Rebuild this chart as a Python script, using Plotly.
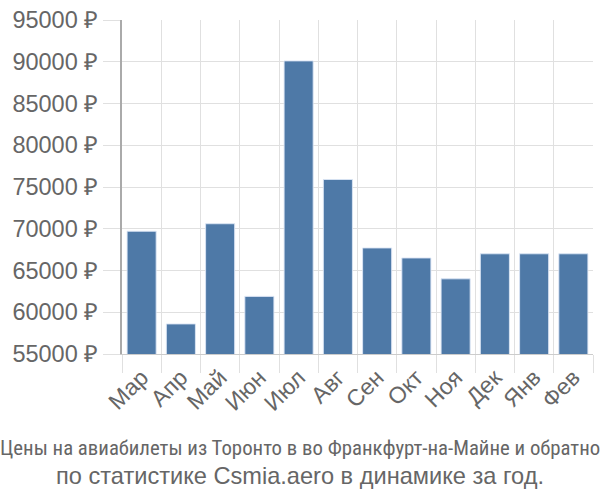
import plotly.graph_objects as go

months = ["Мар", "Апр", "Май", "Июн", "Июл", "Авг", "Сен", "Окт", "Ноя", "Дек", "Янв", "Фев"]
prices = [69700, 58600, 70600, 61900, 90100, 75900, 67700, 66500, 64000, 67000, 67000, 67000]

title_line1 = "Цены на авиабилеты из Торонто в во Франкфурт-на-Майне и обратно"
title_line2 = "по статистике Csmia.aero в динамике за год."

FONT = "Liberation Sans, Arial, sans-serif"

fig = go.Figure(go.Bar(
    x=months, y=prices,
    marker=dict(color="#4e79a7", line=dict(color="rgba(220,230,245,0.9)", width=1)),
))

fig.update_layout(
    width=600, height=500,
    margin=dict(l=122, r=7, t=14, b=146),
    paper_bgcolor="white", plot_bgcolor="white",
    bargap=0.26,
    showlegend=False,
    font=dict(family=FONT, color="#666666"),
    xaxis=dict(
        type="category", tickson="boundaries",
        showgrid=True, gridcolor="#e0e0e0", gridwidth=1,
        ticks="outside", ticklen=18, tickcolor="#e0e0e0",
        showline=True, linecolor="#cccccc", linewidth=1,
        tickangle=-45, tickfont=dict(family=FONT, size=23, color="#666666"),
    ),
    yaxis=dict(
        range=[55000, 95000], dtick=5000, tick0=55000,
        ticksuffix=" ₽", tickformat="d",
        showgrid=True, gridcolor="#e0e0e0", gridwidth=1,
        ticks="outside", ticklen=17, tickcolor="#e0e0e0",
        showline=True, linecolor="#aaaaaa", linewidth=2,
        zeroline=False,
        tickfont=dict(family=FONT, size=23.5, color="#666666"),
    ),
    annotations=[
        dict(text=title_line1, x=0.5, y=450, xref="paper", yref="paper",
             showarrow=False, font=dict(family="Liberation Sans Narrow, Roboto Condensed, sans-serif", size=20.8, color="#666666")),
        dict(text=title_line2, x=0.5, y=478, xref="paper", yref="paper",
             showarrow=False, font=dict(family=FONT, size=23.6, color="#666666")),
    ],
)

# convert pixel y positions of annotations to paper coords
plot_top, plot_h = 14, 340
for a in fig.layout.annotations:
    py = a.y
    a.y = 1 - (py - plot_top) / plot_h
    a.yanchor = "middle"
    a.x = (300 - 122) / 471
    a.xanchor = "center"

fig.write_html("out.html")
